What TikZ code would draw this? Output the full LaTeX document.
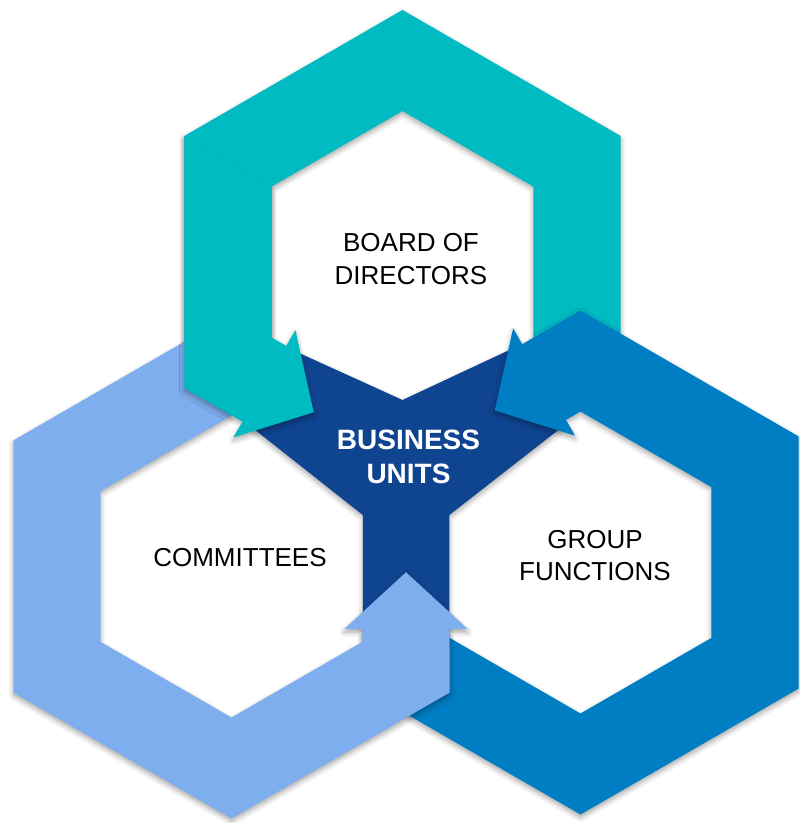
\documentclass[tikz,border=0pt]{standalone}
\usepackage{fontspec}
\setmainfont{Liberation Sans}
\usetikzlibrary{calc,shadows.blur}
\definecolor{cteal}{RGB}{0,187,194}
\definecolor{clight}{RGB}{127,174,238}
\definecolor{cblue}{RGB}{0,126,196}
\definecolor{cnavy}{RGB}{15,68,145}
% #1 prefix, #2 centre, #3 rotation, #4 distance of the arrow cut along the side
\newcommand{\defring}[4]{%
  \coordinate (#1c) at (#2);
  \foreach \a in {330,30,90,150,210} {
    \coordinate (#1o\a) at ($(#1c)+({\a+#3}:252)$);
    \coordinate (#1i\a) at ($(#1c)+({\a+#3}:151)$);
  }
  \coordinate (#1P) at ($(#1c)+({210+#3}:201.5)+({330+#3}:#4)$);
  \coordinate (#1Co) at ($(#1P)+({240+#3}:43.73)$);
  \coordinate (#1Ci) at ($(#1P)+({60+#3}:43.73)$);
  \coordinate (#1Bo) at ($(#1P)+({240+#3}:62)$);
  \coordinate (#1Bi) at ($(#1P)+({60+#3}:62)$);
  \coordinate (#1Tip) at ($(#1P)+({330+#3}:57)$);
}
\newcommand{\fullring}[1]{(#1o330) -- (#1o30) -- (#1o90) -- (#1o150) -- (#1o210) -- (#1Co) -- (#1Bo) -- (#1Tip) -- (#1Bi) -- (#1Ci) -- (#1i210) -- (#1i150) -- (#1i90) -- (#1i30) -- (#1i330) -- cycle}
\newcommand{\tailring}[1]{(#1o330) -- (#1o30) -- (#1o90) -- (#1o150) -- (#1o210) -- (#1i210) -- (#1i150) -- (#1i90) -- (#1i30) -- (#1i330) -- cycle}
\newcommand{\headring}[1]{(#1o150) -- (#1o210) -- (#1Co) -- (#1Bo) -- (#1Tip) -- (#1Bi) -- (#1Ci) -- (#1i210) -- (#1i150) -- cycle}
\tikzset{
  softshadow/.style={blur shadow={shadow xshift=0pt, shadow yshift=-3pt, shadow blur radius=5pt, shadow opacity=35}},
  label/.style={font=\fontsize{26}{33}\selectfont, align=center, text=black},
  centrelabel/.style={font=\bfseries\fontsize{28}{33.5}\selectfont, align=center, text=white}
}
\begin{document}
\begin{tikzpicture}[x=1pt,y=1pt]
\useasboundingbox (0,0) rectangle (800,823);
\defring{T}{402.5,561}{0}{42}
\defring{L}{231.5,256.5}{120}{38}
\defring{B}{580.5,260.5}{240}{42}
% centre shape
\fill[cnavy, softshadow] (402.5,423) -- (512,474.2) -- (562,395.9) -- (449.3,308) -- (449.3,183) -- (362.8,183) -- (362.8,308) -- (250,397.1) -- (296,471.4) -- cycle;
% rings
\fill[cteal, softshadow] \tailring{T};
\fill[cblue, softshadow] \fullring{B};
\fill[clight, softshadow] \fullring{L};
\begin{scope}
  \clip ($(Tc)+(150:1000)$) -- ($(Tc)+(240:1000)$) -- ($(Tc)+(330:1000)$) -- cycle;
  \fill[cteal, softshadow] \headring{T};
\end{scope}
% texts
\node[label] (board) at (411,564) {BOARD OF\\DIRECTORS};
\node[label] (comm) at (240,265.5) {COMMITTEES};
\node[label, font=\fontsize{26}{32}\selectfont] (group) at (595,267.5) {GROUP\\FUNCTIONS};
\node[centrelabel] (bu) at (408.5,366) {BUSINESS\\UNITS};
\end{tikzpicture}
\end{document}
